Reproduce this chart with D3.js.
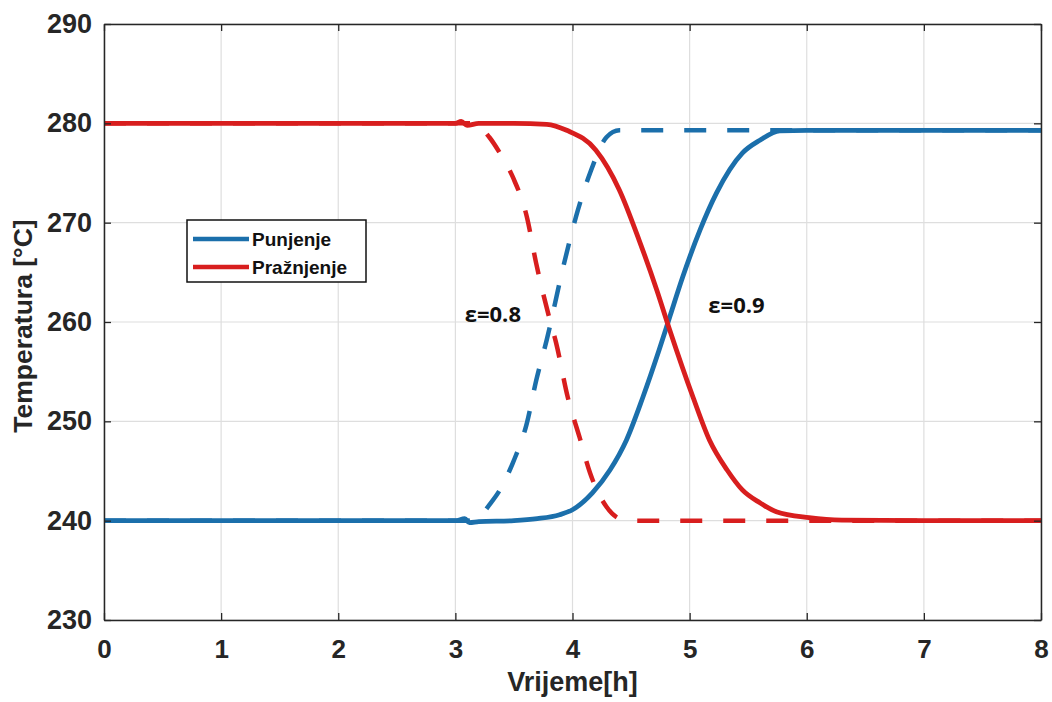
<!DOCTYPE html>
<html><head><meta charset="utf-8">
<script src="https://cdn.jsdelivr.net/npm/d3@7"></script>
<style>body{margin:0;background:#fff}svg{display:block}</style>
</head><body>
<svg id="c" width="1052" height="702"></svg>
<script>
// ---- data ----
const xTicks = [0,1,2,3,4,5,6,7,8];
const yTicks = [230,240,250,260,270,280,290];
const seriesNames = ["Punjenje","Pražnjenje"];
const annotations = ["ε=0.8","ε=0.9"];

const punj09_t = [0, 3.0, 3.08, 3.12, 3.2, 3.5, 3.7, 3.89, 4.0, 4.17, 4.32, 4.46, 4.6, 4.74, 4.83, 4.94, 5.09, 5.23, 5.45, 5.6, 5.77, 6, 7, 8];
const punj09_T = [240, 240, 240.2, 239.8, 239.9, 240, 240.2, 240.6, 241.1, 242.8, 245.1, 248.1, 252.4, 257.2, 260.5, 264.5, 269.3, 273, 277, 278.3, 279.25, 279.3, 279.3, 279.3];

const prazn09_t = [0, 3.0, 3.05, 3.1, 3.2, 3.5, 3.78, 3.95, 4.2, 4.4, 4.57, 4.72, 4.83, 5.03, 5.17, 5.32, 5.45, 5.6, 5.74, 6.02, 6.3, 7, 8];
const prazn09_T = [280, 280, 280.2, 279.8, 280, 280, 279.9, 279.3, 277.3, 273.3, 268.2, 263.2, 259.2, 252.4, 248.1, 245.1, 243.1, 241.8, 240.9, 240.3, 240.05, 240, 240];

const punj08_t = [0, 3.1, 3.2, 3.29, 3.38, 3.49, 3.61, 3.69, 3.78, 3.92, 4.03, 4.15, 4.29, 4.4, 8];
const punj08_T = [240, 240, 240.3, 241.6, 243.1, 245.8, 249.8, 254.1, 258.2, 265.5, 270.6, 275, 278.6, 279.3, 279.3];

const prazn08_t = [0, 3.15, 3.29, 3.38, 3.49, 3.61, 3.69, 3.8, 3.86, 3.96, 4.06, 4.15, 4.29, 4.43, 4.55, 8];
const prazn08_T = [280, 280, 278.6, 277, 274.6, 270.6, 265.9, 260.5, 257.9, 252.4, 248.4, 244.8, 241.4, 240.1, 240, 240];

// ---- drawing ----
const blue = "#1b6fab", red = "#d81e1e";
const svg = d3.select("#c");
const L = 104, R = 1041, T = 24, B = 620;
const x = d3.scaleLinear().domain([0,8]).range([L,R]);
const y = d3.scaleLinear().domain([230,290]).range([B,T]);
const font = "'Liberation Sans', Arial, sans-serif";

// grid
svg.append("g").selectAll("line").data(xTicks).join("line")
  .attr("x1",d=>x(d)).attr("x2",d=>x(d)).attr("y1",T).attr("y2",B)
  .attr("stroke","#dedede").attr("stroke-width",1.2);
svg.append("g").selectAll("line").data(yTicks).join("line")
  .attr("y1",d=>y(d)).attr("y2",d=>y(d)).attr("x1",L).attr("x2",R)
  .attr("stroke","#dedede").attr("stroke-width",1.2);

const zip = (ts,vs)=>ts.map((t,i)=>[t,vs[i]]);
const line = d3.line().x(d=>x(d[0])).y(d=>y(d[1])).curve(d3.curveMonotoneX);

const g = svg.append("g");
g.append("path").attr("d",line(zip(punj08_t,punj08_T))).attr("fill","none")
  .attr("stroke",blue).attr("stroke-width",4.5).attr("stroke-dasharray","22,21");
g.append("path").attr("d",line(zip(prazn08_t,prazn08_T))).attr("fill","none")
  .attr("stroke",red).attr("stroke-width",4.5).attr("stroke-dasharray","22,21");
g.append("path").attr("d",line(zip(punj09_t,punj09_T))).attr("fill","none")
  .attr("stroke",blue).attr("stroke-width",4.8).attr("stroke-linejoin","round");
g.append("path").attr("d",line(zip(prazn09_t,prazn09_T))).attr("fill","none")
  .attr("stroke",red).attr("stroke-width",4.8).attr("stroke-linejoin","round");

// axes
const xAxB = d3.axisBottom(x).tickValues(xTicks).tickSizeInner(-7).tickSizeOuter(0).tickPadding(20);
const yAxL = d3.axisLeft(y).tickValues(yTicks).tickSizeInner(-7).tickSizeOuter(0).tickPadding(12);
const gx = svg.append("g").attr("transform",`translate(0,${B})`).call(xAxB);
const gy = svg.append("g").attr("transform",`translate(${L},0)`).call(yAxL);
const gx2 = svg.append("g").attr("transform",`translate(0,${T})`).call(d3.axisTop(x).tickValues(xTicks).tickSizeInner(-7).tickSizeOuter(0).tickFormat(""));
const gy2 = svg.append("g").attr("transform",`translate(${R},0)`).call(d3.axisRight(y).tickValues(yTicks).tickSizeInner(-7).tickSizeOuter(0).tickFormat(""));
[gx,gy,gx2,gy2].forEach(a=>{
  a.select(".domain").attr("stroke","#262626").attr("stroke-width",1.5);
  a.selectAll(".tick line").attr("stroke","#262626").attr("stroke-width",1.3);
  a.selectAll("text").attr("fill","#262626").attr("font-family",font)
    .attr("font-weight","bold").attr("font-size",27);
});
gx.selectAll("text").attr("font-size",26);

// axis titles
svg.append("text").attr("x",(L+R)/2).attr("y",691).attr("text-anchor","middle")
  .attr("font-family",font).attr("font-weight","bold").attr("font-size",27).attr("fill","#262626")
  .text("Vrijeme[h]");
svg.append("text").attr("transform","translate(32,326) rotate(-90)").attr("text-anchor","middle")
  .attr("font-family",font).attr("font-weight","bold").attr("font-size",26.5).attr("fill","#262626")
  .text("Temperatura [°C]");

// annotations
svg.append("text").attr("x",x(3.32)).attr("y",y(260.0)).attr("text-anchor","middle")
  .attr("font-family","'Open Sans', sans-serif").attr("font-weight","bold").attr("font-size",22).attr("fill","#111")
  .text(annotations[0]);
svg.append("text").attr("x",x(5.40)).attr("y",y(260.9)).attr("text-anchor","middle")
  .attr("font-family","'Open Sans', sans-serif").attr("font-weight","bold").attr("font-size",22).attr("fill","#111")
  .text(annotations[1]);

// legend
const lg = svg.append("g").attr("transform","translate(187,220)");
lg.append("rect").attr("width",179).attr("height",62).attr("fill","#fff")
  .attr("stroke","#111").attr("stroke-width",1.5);
[blue,red].forEach((c,i)=>{
  lg.append("line").attr("x1",6).attr("x2",62).attr("y1",19+i*28).attr("y2",19+i*28)
    .attr("stroke",c).attr("stroke-width",4.5);
  lg.append("text").attr("x",65).attr("y",26+i*28).attr("font-family",font)
    .attr("font-weight","bold").attr("font-size",19).attr("fill","#111").text(seriesNames[i]);
});
</script>
</body></html>
